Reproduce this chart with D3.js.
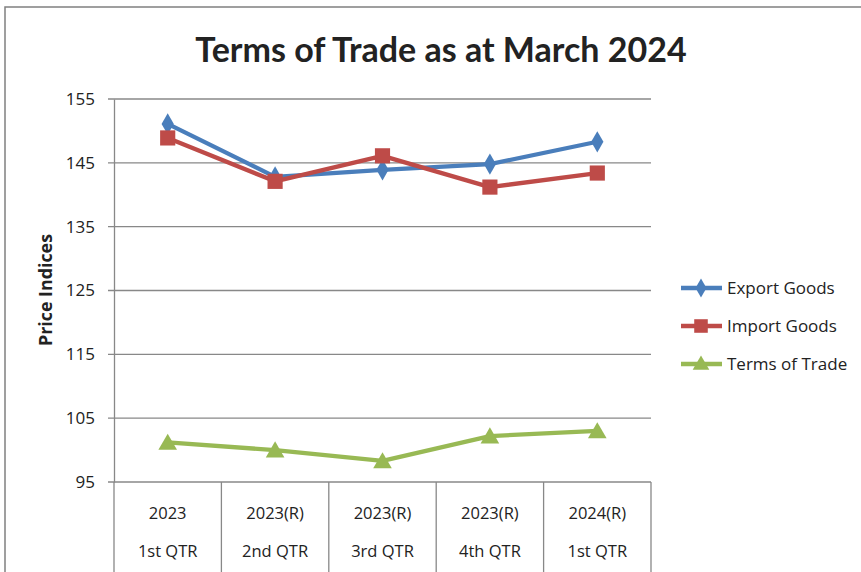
<!DOCTYPE html>
<html>
<head>
<meta charset="utf-8">
<script src="https://cdn.jsdelivr.net/npm/d3@7"></script>
<style>
body{margin:0;background:#fff;}
text{font-family:"Open Sans","DejaVu Sans",sans-serif;fill:#222;}
</style>
</head>
<body>
<svg id="chart" width="861" height="572"></svg>
<script>
// data
var years = ["2023","2023(R)","2023(R)","2023(R)","2024(R)"];
var quarters = ["1st QTR","2nd QTR","3rd QTR","4th QTR","1st QTR"];
var exportGoods = [151.1,142.8,143.9,144.8,148.3];
var importGoods = [148.9,142.1,146.1,141.2,143.4];
var termsOfTrade = [101.2,100.0,98.3,102.2,103.0];
var yTicks = [95,105,115,125,135,145,155];
var seriesNames = ["Export Goods","Import Goods","Terms of Trade"];

var series=[
  {name:seriesNames[0],values:exportGoods,color:"#4a7ebb",shape:d3.symbolDiamond,size:130},
  {name:seriesNames[1],values:importGoods,color:"#be4b48",shape:d3.symbolSquare,size:230},
  {name:seriesNames[2],values:termsOfTrade,color:"#98b954",shape:d3.symbolTriangle,size:150}
];

var svg=d3.select("#chart");
var plot={left:114,right:651,top:99,bottom:482};

// outer frame
svg.append("rect")
  .attr("x",5).attr("y",7)
  .attr("width",900).attr("height",600)
  .attr("fill","none").attr("stroke","#808080").attr("stroke-width",1.5);

var xScale=d3.scaleBand()
  .domain(d3.range(years.length))
  .range([plot.left,plot.right]);
var yScale=d3.scaleLinear()
  .domain([95,155])
  .range([plot.bottom,plot.top]);

// gridlines
svg.append("g")
  .selectAll("line")
  .data(yTicks)
  .enter()
  .append("line")
  .attr("x1",plot.left-6)
  .attr("x2",plot.right)
  .attr("y1",function(d){return yScale(d);})
  .attr("y2",function(d){return yScale(d);})
  .attr("stroke","#888").attr("stroke-width",1.3);

// y axis
var yAxis=svg.append("g")
  .attr("transform","translate("+plot.left+",0)")
  .call(d3.axisLeft(yScale).tickValues(yTicks).tickSize(0).tickPadding(19));
yAxis.select(".domain").attr("stroke","#888").attr("stroke-width",1.3);
yAxis.selectAll("text").style("font-size","17px").attr("fill","#222");

// category separators below axis
svg.append("g")
  .selectAll("line")
  .data(d3.range(years.length+1))
  .enter()
  .append("line")
  .attr("x1",function(i){return plot.left+i*xScale.bandwidth();})
  .attr("x2",function(i){return plot.left+i*xScale.bandwidth();})
  .attr("y1",plot.bottom).attr("y2",572)
  .attr("stroke","#888").attr("stroke-width",1.3);

var cats=svg.append("g");
cats.selectAll(".yr")
  .data(years)
  .enter()
  .append("text")
  .attr("x",function(d,i){return xScale(i)+xScale.bandwidth()/2;})
  .attr("y",519)
  .attr("text-anchor","middle")
  .style("font-size","16.5px")
  .text(function(d){return d;});
cats.selectAll(".qt")
  .data(quarters)
  .enter()
  .append("text")
  .attr("x",function(d,i){return xScale(i)+xScale.bandwidth()/2;})
  .attr("y",557)
  .attr("text-anchor","middle")
  .style("font-size","16.5px")
  .text(function(d){return d;});

// lines and markers
var line=d3.line()
  .x(function(d,i){return xScale(i)+xScale.bandwidth()/2;})
  .y(function(d){return yScale(d);});

series.forEach(function(s){
  svg.append("path")
    .attr("d",line(s.values))
    .attr("fill","none")
    .attr("stroke",s.color)
    .attr("stroke-width",4.3)
    .attr("stroke-linejoin","round");
  svg.append("g")
    .selectAll("path")
    .data(s.values)
    .enter()
    .append("path")
    .attr("d",d3.symbol().type(s.shape).size(s.size))
    .attr("transform",function(d,i){
      var dy=s.shape===d3.symbolTriangle?2:0;
      return "translate("+(xScale(i)+xScale.bandwidth()/2)+","+(yScale(d)+dy)+")";
    })
    .attr("fill",s.color);
});

// title
svg.append("text")
  .attr("x",441).attr("y",62)
  .attr("text-anchor","middle")
  .style("font-family","Lato,sans-serif")
  .style("font-weight","bold")
  .style("font-size","34px")
  .attr("fill","#000")
  .text("Terms of Trade as at March 2024");

// y axis title
svg.append("text")
  .attr("transform","translate(52,290) rotate(-90)")
  .attr("text-anchor","middle")
  .attr("textLength",112)
  .attr("lengthAdjust","spacingAndGlyphs")
  .style("font-weight","bold")
  .style("font-size","17px")
  .attr("fill","#000")
  .text("Price Indices");

// legend
var legend=svg.append("g");
series.forEach(function(s,i){
  var ly=288+i*38;
  legend.append("line")
    .attr("x1",681).attr("x2",722)
    .attr("y1",ly).attr("y2",ly)
    .attr("stroke",s.color).attr("stroke-width",4.3);
  legend.append("path")
    .attr("d",d3.symbol().type(s.shape).size(s.size*0.8))
    .attr("transform","translate(701,"+(ly+(s.shape===d3.symbolTriangle?1:0))+")")
    .attr("fill",s.color);
  legend.append("text")
    .attr("x",727).attr("y",ly+6)
    .style("font-size","17px")
    .text(s.name);
});
</script>
</body>
</html>
